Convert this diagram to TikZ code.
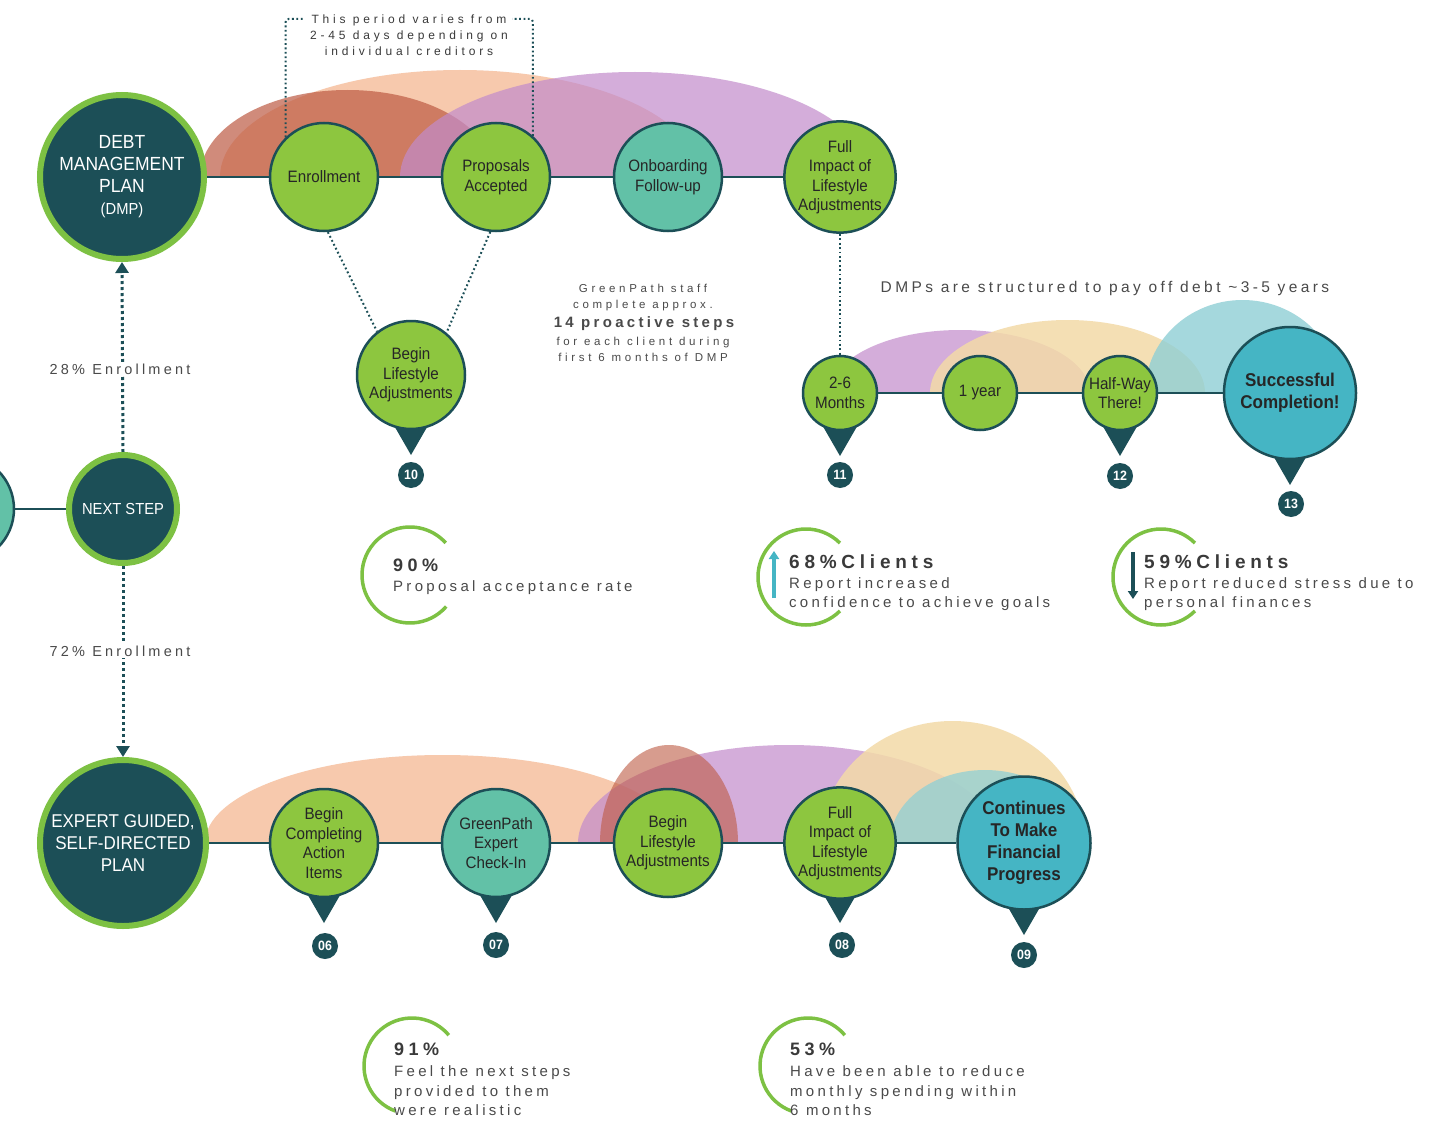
\documentclass[tikz,border=0pt]{standalone}
\usepackage{fontspec}
\setmainfont{Liberation Sans}
\newfontfamily\fnode[FakeStretch=0.92]{Liberation Sans}
\newfontfamily\fspc[LetterSpace=22]{Liberation Sans}
\newfontfamily\fspw[LetterSpace=32]{Liberation Sans}
\newfontfamily\fsph[LetterSpace=25]{Liberation Sans}
\usetikzlibrary{calc,arrows.meta}
\definecolor{dteal}{HTML}{1C4F57}
\definecolor{lgreen}{HTML}{8DC63F}
\definecolor{rgreen}{HTML}{7DC143}
\definecolor{mint}{HTML}{62C1A7}
\definecolor{turq}{HTML}{45B5C4}
\definecolor{peach}{HTML}{F7C9AD}
\definecolor{rust}{HTML}{BD5A43}
\definecolor{purp}{HTML}{C28BCB}
\definecolor{beige}{HTML}{F3DAA8}
\definecolor{lblue}{HTML}{8FCFD5}
\definecolor{txtg}{HTML}{4A4A4A}
\definecolor{txth}{HTML}{3A3A3A}
\pgfdeclarelayer{back}
\pgfdeclarelayer{mid}
\pgfsetlayers{back,mid,main}
\tikzset{
 stepnode/.style={circle,draw=dteal,line width=2.5pt,fill=lgreen,minimum size=108pt,inner sep=0pt,align=center,text=black!85,font=\fnode\fontsize{16.5}{19.5}\selectfont},
 mintnode/.style={stepnode,fill=mint},
 smallnode/.style={stepnode,minimum size=74pt},
 endnode/.style={stepnode,fill=turq,minimum size=132pt,font=\fnode\bfseries\fontsize{18.5}{22}\selectfont},
 bignode/.style={circle,draw=rgreen,line width=6pt,fill=dteal,inner sep=0pt,align=center,text=white,font=\fnode\fontsize{19}{22}\selectfont},
 badge/.style={circle,fill=dteal,minimum size=26pt,inner sep=0pt,text=white,font=\fnode\bfseries\fontsize{13.5}{13.5}\selectfont},
 tl/.style={draw=dteal,line width=2.5pt},
 dotsm/.style={draw=dteal,line width=2pt,dash pattern=on 1.8pt off 2.6pt},
 dotbig/.style={draw=dteal,line width=3pt,dash pattern=on 3pt off 3pt},
 ann/.style={text=txtg,align=center,inner sep=0pt},
 stathead/.style={text=txth,anchor=west,inner sep=0pt,font=\fsph\bfseries\fontsize{19}{21}\selectfont},
 statbody/.style={text=txtg,anchor=west,align=left,inner sep=0pt,font=\fspc\fontsize{15}{19.5}\selectfont},
 statarc/.style={draw=rgreen,line width=3.5pt},
}
\newcommand\harc[5]{\fill[#1] (#2,#5) arc[start angle=180,end angle=360,x radius={(#3-#2)/2},y radius=#4] -- cycle;}
\newcommand\mytri[2]{\fill[dteal] ($(#1)+(-19,#2-8)$) -- ($(#1)+(19,#2-8)$) -- ($(#1)+(0,#2+25)$) -- cycle;}
\begin{document}
\begin{tikzpicture}[x=1pt,y=-1pt]
\useasboundingbox (0,0) rectangle (1446,1121);
% ---------- top row ----------
\node[bignode,minimum size=164pt] (dmp) at (122,177) {DEBT\\MANAGEMENT\\PLAN\\{\fontsize{16}{19}\selectfont(DMP)}};
\node[stepnode] (enr) at (324,177) {Enrollment};
\node[stepnode] (pac) at (496,177) {Proposals\\Accepted};
\node[mintnode] (onb) at (668,177) {Onboarding\\Follow-up};
\node[stepnode] (fi1) at (840,177) {Full\\Impact of\\Lifestyle\\Adjustments};
\node[stepnode] (bl1) at (411,375) {Begin\\Lifestyle\\Adjustments};
\node[badge] (b10) at (411,475) {10};
% ---------- right row ----------
\node[smallnode] (m26) at (840,393) {2-6\\Months};
\node[smallnode] (yr1) at (980,393) {1 year};
\node[smallnode] (hw) at (1120,393) {Half-Way\\There!};
\node[endnode] (suc) at (1290,393) {Successful\\Completion!};
\node[badge] (b11) at (840,475) {11};
\node[badge] (b12) at (1120,476) {12};
\node[badge] (b13) at (1291,504) {13};
% ---------- next step ----------
\node[mintnode] (prv) at (-40,509) {};
\node[bignode,minimum size=108pt,font=\fnode\fontsize{16}{19}\selectfont] (nxt) at (123,509) {NEXT STEP};
% ---------- bottom row ----------
\node[bignode,minimum size=166pt,font=\fnode\fontsize{18.5}{22}\selectfont] (exp) at (123,843) {EXPERT GUIDED,\\SELF-DIRECTED\\PLAN};
\node[stepnode] (bca) at (324,843) {Begin\\Completing\\Action\\Items};
\node[mintnode] (gpe) at (496,843) {GreenPath\\Expert\\Check-In};
\node[stepnode] (bl2) at (668,843) {Begin\\Lifestyle\\Adjustments};
\node[stepnode] (fi2) at (840,843) {Full\\Impact of\\Lifestyle\\Adjustments};
\node[endnode,minimum size=133pt] (con) at (1024,843) {Continues\\To Make\\Financial\\Progress};
\node[badge] (b06) at (325,946) {06};
\node[badge] (b07) at (496,945) {07};
\node[badge] (b08) at (842,945) {08};
\node[badge] (b09) at (1024,955) {09};
% ---------- annotations ----------
\node[ann,text=txth,font=\fspw\fontsize{12}{16}\selectfont] (brk) at (409,35) {This period varies from\\2-45 days depending on\\individual creditors};
\coordinate (bkl) at (305,19);
\coordinate (bkr) at (512,19);
\node[ann,font=\fspw\fontsize{11.5}{16}\selectfont] (gp1) at (643,298) {GreenPath staff\\complete approx.};
\node[ann,font=\fspc\bfseries\fontsize{15}{18}\selectfont] (gp2) at (644,324) {14 proactive steps};
\node[ann,font=\fspw\fontsize{11.5}{16}\selectfont] (gp3) at (643,349) {for each client during\\first 6 months of DMP};
\node[ann,font=\fspc\fontsize{15.5}{18}\selectfont] (dmps) at (1105,288) {DMPs are structured to pay off debt \textasciitilde3-5 years};
\node[ann,fill=white,inner sep=2pt,font=\fspc\fontsize{14.5}{17}\selectfont] (e28) at (120,369) {28\% Enrollment};
\node[ann,fill=white,inner sep=2pt,font=\fspc\fontsize{14.5}{17}\selectfont] (e72) at (120,651) {72\% Enrollment};
% ---------- stats ----------
\draw[statarc] (410,575) ++(41:48) arc[start angle=41,end angle=318,radius=48];
\node[stathead,font=\fsph\bfseries\fontsize{18}{20}\selectfont] (s90) at (393,565) {90\%};
\node[statbody] (s90t) at (393,588) {Proposal acceptance rate};
\draw[statarc] (806,577) ++(45:48) arc[start angle=45,end angle=315,radius=48];
\draw[turq,line width=4pt,-{Triangle[width=10pt,length=8pt]}] (774,598) -- (774,551);
\node[stathead] (s68) at (789,562) {68\%Clients};
\node[statbody] (s68t) at (789,594) {Report increased\\confidence to achieve goals};
\draw[statarc] (1161,577) ++(45:48) arc[start angle=45,end angle=315,radius=48];
\draw[dteal,line width=4pt,-{Triangle[width=10pt,length=8pt]}] (1133,552) -- (1133,599);
\node[stathead] (s59) at (1144,562) {59\%Clients};
\node[statbody] (s59t) at (1144,594) {Report reduced stress due to\\personal finances};
\draw[statarc] (412,1066) ++(110:48) arc[start angle=110,end angle=320,radius=48];
\node[stathead,font=\fsph\bfseries\fontsize{18}{20}\selectfont] (s91) at (394,1049) {91\%};
\node[statbody] (s91t) at (394,1091) {Feel the next steps\\provided to them\\were realistic};
\draw[statarc] (808,1066) ++(110:48) arc[start angle=110,end angle=320,radius=48];
\node[stathead,font=\fsph\bfseries\fontsize{18}{20}\selectfont] (s53) at (790,1049) {53\%};
\node[statbody] (s53t) at (790,1091) {Have been able to reduce\\monthly spending within\\6 months};
% ---------- connectors ----------
\begin{pgfonlayer}{mid}
\draw[tl] (dmp) -- (enr) -- (pac) -- (onb) -- (fi1);
\draw[tl] (m26) -- (yr1) -- (hw) -- (suc);
\draw[tl] (prv) -- (nxt);
\draw[tl] (exp) -- (bca) -- (gpe) -- (bl2) -- (fi2) -- (con);
\draw[dotsm,rounded corners=3pt] (enr.134) |- (bkl);
\draw[dotsm,rounded corners=3pt] (pac.48) |- (bkr);
\draw[dotsm] (enr.-86) -- (bl1.128);
\draw[dotsm] (pac.-96) -- (bl1.50);
\draw[dotsm] (fi1) -- (m26);
\draw[dotbig,-{Triangle[width=13pt,length=11pt]}] (nxt.north) -- (dmp.south);
\draw[dotbig,-{Triangle[width=13pt,length=11pt]}] (nxt.south) -- (exp.north);
\mytri{bl1}{55}
\mytri{m26}{38}
\mytri{hw}{38}
\mytri{suc}{67}
\mytri{bca}{55}
\mytri{gpe}{55}
\mytri{fi2}{55}
\mytri{con}{67}
\end{pgfonlayer}
% ---------- background arcs ----------
\begin{pgfonlayer}{back}
\fill[white] (0,0) rectangle (1446,1121);
\harc{peach}{220}{700}{107}{177}
\harc{rust,opacity=.7}{200}{495}{87}{177}
\harc{purp,opacity=.7}{400}{870}{105}{177}
\harc{purp,opacity=.7}{830}{1090}{63}{393}
\harc{beige,opacity=.85}{930}{1205}{73}{393}
\harc{lblue,opacity=.8}{1145}{1340}{93}{393}
\harc{peach}{205}{680}{88}{843}
\harc{purp,opacity=.7}{578}{1000}{98}{843}
\harc{rust,opacity=.6}{600}{738}{98}{843}
\harc{beige,opacity=.85}{820}{1085}{122}{843}
\harc{lblue,opacity=.75}{890}{1080}{73}{843}
\end{pgfonlayer}
\end{tikzpicture}
\end{document}
